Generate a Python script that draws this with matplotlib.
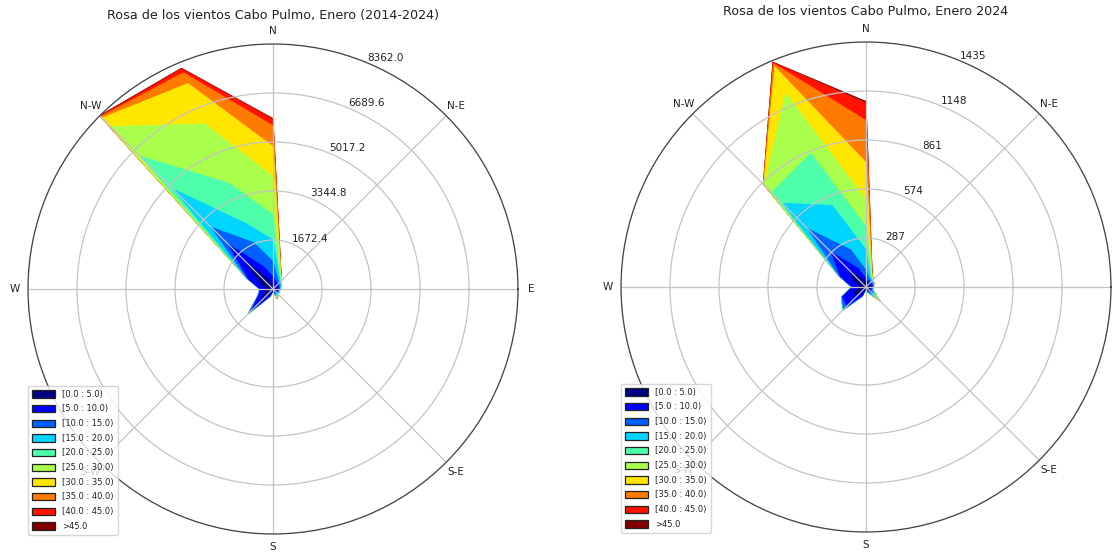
import matplotlib
matplotlib.use('Agg')
import matplotlib.pyplot as plt
from matplotlib.patches import Patch
import numpy as np

# compass degrees, clockwise from north
dir_deg = np.arange(0, 360, 22.5)
speed_labels = ['[0.0 : 5.0)', '[5.0 : 10.0)', '[10.0 : 15.0)', '[15.0 : 20.0)', '[20.0 : 25.0)',
                '[25.0 : 30.0)', '[30.0 : 35.0)', '[35.0 : 40.0)', '[40.0 : 45.0)', '>45.0']
angle_labels = ['E', 'N-E', 'N', 'N-W', 'W', 'S-W', 'S', 'S-E']

# counts per direction (rows, N then clockwise) and speed bin (columns)
counts_decade = [
    [137, 285, 512, 740, 854, 1309, 1024, 706, 228, 23],
    [114, 137, 148, 114, 80, 46, 34, 23, 11, 0],
    [137, 114, 57, 34, 34, 23, 11, 11, 0, 0],
    [114, 91, 46, 23, 11, 0, 0, 0, 0, 0],
    [114, 91, 23, 23, 0, 0, 0, 0, 0, 0],
    [91, 68, 34, 23, 11, 0, 0, 0, 0, 0],
    [68, 68, 57, 34, 23, 11, 0, 0, 0, 0],
    [46, 68, 68, 68, 46, 23, 23, 23, 0, 0],
    [46, 23, 0, 0, 0, 0, 0, 0, 0, 0],
    [137, 114, 23, 0, 0, 0, 0, 0, 0, 0],
    [570, 454, 148, 23, 0, 0, 0, 0, 0, 0],
    [341, 182, 11, 11, 0, 0, 0, 0, 0, 0],
    [228, 205, 11, 11, 0, 0, 0, 0, 0, 0],
    [455, 455, 46, 11, 11, 0, 0, 0, 0, 0],
    [1366, 797, 819, 1844, 1582, 1434, 410, 68, 23, 23],
    [341, 478, 888, 717, 1479, 2196, 1491, 398, 148, 23],
]
counts_2024 = [
    [20, 29, 49, 119, 137, 156, 219, 246, 102, 10],
    [20, 16, 16, 12, 10, 8, 6, 4, 2, 0],
    [20, 16, 10, 6, 4, 2, 2, 0, 0, 0],
    [20, 16, 8, 4, 2, 0, 0, 0, 0, 0],
    [20, 16, 6, 2, 0, 0, 0, 0, 0, 0],
    [16, 14, 6, 4, 0, 0, 0, 0, 0, 0],
    [16, 20, 25, 27, 16, 6, 4, 2, 0, 0],
    [12, 12, 8, 4, 2, 2, 0, 0, 0, 0],
    [6, 4, 0, 0, 0, 0, 0, 0, 0, 0],
    [29, 25, 4, 0, 0, 0, 0, 0, 0, 0],
    [80, 77, 29, 4, 0, 0, 0, 0, 0, 0],
    [78, 70, 4, 2, 0, 0, 0, 0, 0, 0],
    [39, 41, 2, 2, 0, 0, 0, 0, 0, 0],
    [68, 94, 6, 2, 2, 0, 0, 0, 0, 0],
    [137, 148, 197, 211, 88, 62, 4, 2, 2, 0],
    [49, 68, 119, 281, 330, 381, 168, 20, 8, 2],
]
rticks_decade = [1672.4, 3344.8, 5017.2, 6689.6, 8362.0]
rticks_2024 = [287, 574, 861, 1148, 1435]

colors = plt.cm.jet(np.linspace(0, 1, 10))
W, H = 1116, 553


def rose(box, counts, rticks, rlabels, title, title_y, leg_xy):
    ax = fig.add_axes([box[0]/W, 1 - (box[1]+box[2])/H, box[2]/W, box[2]/H], projection='polar')
    theta = np.deg2rad(90 - np.append(dir_deg, 0))
    cum = np.cumsum(np.array(counts), axis=1)
    # outer bands first so the slower ones sit on top
    for i in range(9, -1, -1):
        r = np.append(cum[:, i], cum[0, i])
        ax.fill(theta, r, facecolor=colors[i], edgecolor=colors[i], lw=0.6, zorder=1)
    ax.set_thetagrids(np.arange(0, 360, 45), angle_labels, fontsize=7.5)
    ax.set_rgrids(rticks, rlabels, angle=67.5, fontsize=7.5)
    ax.set_rlim(0, rticks[-1])
    ax.tick_params(axis='x', pad=-1, colors='#222222')
    ax.tick_params(axis='y', colors='#222222')
    ax.grid(color='#c4c4c4', lw=0.9)
    ax.spines['polar'].set_color('#444444')
    ax.spines['polar'].set_linewidth(0.9)
    fig.text((box[0]+box[2]/2)/W, 1 - title_y/H, title, fontsize=9.15, ha='center', va='center', color='#222222')
    handles = [Patch(facecolor=c, edgecolor='#222222', lw=0.9) for c in colors]
    ax.legend(handles, speed_labels, loc='lower left', bbox_to_anchor=(leg_xy[0]/W, 1 - leg_xy[1]/H),
              bbox_transform=fig.transFigure, fontsize=6, handlelength=2.7, handleheight=0.95,
              labelspacing=0.68, borderpad=0.5, borderaxespad=0, handletextpad=0.9, labelcolor='#222222')


fig = plt.figure(figsize=(W/100, H/100), dpi=100)
rose((28, 44, 490), counts_decade, rticks_decade, ['%.1f' % v for v in rticks_decade],
     'Rosa de los vientos Cabo Pulmo, Enero (2014-2024)', 15, (28, 535))
rose((621, 42, 490), counts_2024, rticks_2024, ['%d' % v for v in rticks_2024],
     'Rosa de los vientos Cabo Pulmo, Enero 2024', 12, (621, 533))
fig.savefig('out.png', dpi=100)
